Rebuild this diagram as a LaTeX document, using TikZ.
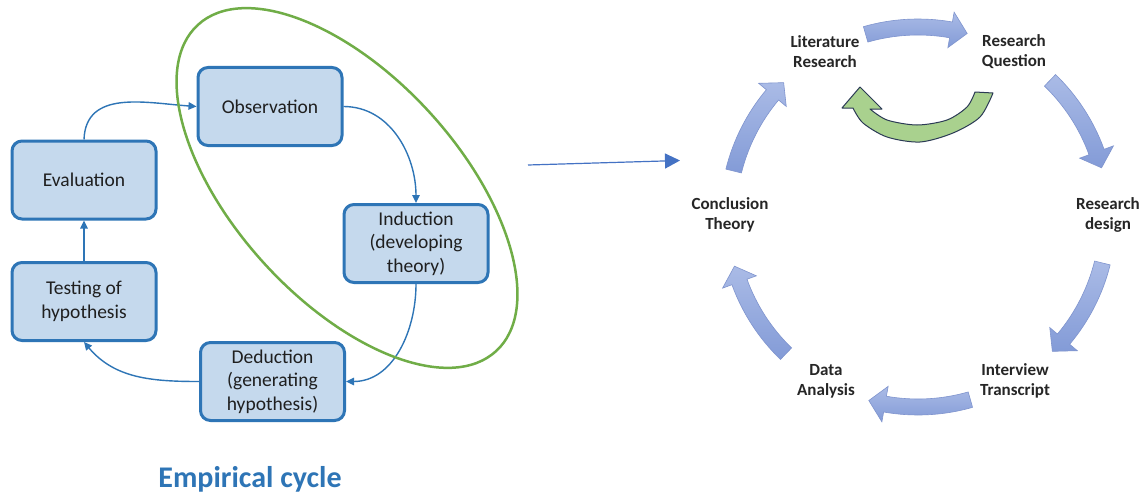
\documentclass[tikz,border=0pt]{standalone}
\usepackage{fontspec}
\setmainfont{Carlito}
\usetikzlibrary{arrows.meta}

\definecolor{boxblue}{HTML}{2E75B6}
\definecolor{boxfill}{HTML}{C5D9ED}
\definecolor{ellgreen}{HTML}{70AD47}
\definecolor{arrlight}{HTML}{AABBE6}
\definecolor{arrdark}{HTML}{839BD7}
\definecolor{arredge}{HTML}{7F94CE}
\definecolor{grfill}{HTML}{A9D18E}
\definecolor{gredge}{HTML}{2B3A55}
\definecolor{linkblue}{HTML}{4472C4}
\definecolor{labeltext}{HTML}{262626}

% block arc arrow around a centre:
% #1 centre, #2 radius, #3 half body width, #4 half head width,
% #5 tail angle, #6 head base angle, #7 tip angle, #8 style
\newcommand\arcarrow[8]{%
  \path[#8, shift={#1}]
    (#5:{#2+#3}) arc[start angle=#5, end angle=#6, radius={#2+#3}]
    -- (#6:{#2+#4}) -- (#7:#2) -- (#6:{#2-#4})
    -- (#6:{#2-#3}) arc[start angle=#6, end angle=#5, radius={#2-#3}]
    -- cycle;}

\tikzset{
  stage/.style={draw=boxblue, line width=3pt, fill=boxfill, rounded corners=10pt,
    minimum width=144pt, minimum height=78pt, align=center, inner sep=0pt,
    font=\fontsize{19.5}{23.5}\selectfont, text=black!88},
  flow/.style={draw=boxblue, line width=1.4pt, -{Triangle[length=8pt,width=7.5pt]}},
  cyclelabel/.style={align=center, font=\fontsize{17}{20}\selectfont\bfseries, text=labeltext},
  blockarrow/.style={top color=arrlight, bottom color=arrdark, draw=arredge, line width=0.6pt},
}

\begin{document}
\begin{tikzpicture}[x=1pt, y=1pt]
\useasboundingbox (0,0) rectangle (1148,-495);
\fill[white] (0,0) rectangle (1148,-495);

% ---------- empirical cycle ----------
\node[stage] (obs)  at (270,-106.5)  {Observation};
\node[stage] (eval) at (84,-180)     {Evaluation};
\node[stage] (ind)  at (416,-243.5)  {Induction\\(developing\\theory)};
\node[stage] (test) at (84,-301.5)   {Testing of\\hypothesis};
\node[stage] (ded)  at (272.5,-381.5) {Deduction\\(generating\\hypothesis)};

\draw[flow] (eval.north) to[out=88, in=176, looseness=1.1] (obs.west);
\draw[flow] (obs.east) to[out=0, in=90] (ind.north);
\draw[flow] (ind.south) to[out=-90, in=0] (ded.east);
\draw[flow] (ded.west) to[out=180, in=-50] (test.south);
\draw[flow] (test.north) -- (eval.south);

% theory-building part of the cycle
\coordinate (ec) at (347,-188);
\draw[ellgreen, line width=2.5pt, rotate around={-47.6:(ec)}]
  (ec) ellipse [x radius=221, y radius=112];

\node[font=\fontsize{30}{36}\selectfont\bfseries, text=boxblue] (title) at (250,-479) {Empirical cycle};

% link between the two cycles
\coordinate (linkA) at (528,-165);
\coordinate (linkB) at (680,-160.5);
\draw[linkblue, line width=1.2pt, -{Triangle[length=15pt,width=15pt]}] (linkA) -- (linkB);

% ---------- research cycle ----------
\arcarrow{(918,-217)}{190}{8}{18}{106}{80}{75}{blockarrow}
\arcarrow{(918,-217)}{190}{8}{18}{46}{20}{15}{blockarrow}
\arcarrow{(918,-217)}{190}{8}{18}{-14}{-40}{-45}{blockarrow}
\arcarrow{(918,-217)}{190}{8}{18}{-74}{-100}{-105}{blockarrow}
\arcarrow{(918,-217)}{190}{8}{18}{-134}{-160}{-165}{blockarrow}
\arcarrow{(918,-217)}{190}{8}{18}{166}{140}{135}{blockarrow}

% loop back from the question to the literature
\path[fill=grfill, draw=gredge, line width=1pt, line join=round]
  plot[smooth] coordinates {(993,-93) (980,-117) (953,-133) (920,-142) (887,-137) (863,-123) (853,-108)}
  -- (842,-108) -- (860,-87) -- (882,-109)
  -- plot[smooth] coordinates {(870,-109) (887,-120) (917,-125) (947,-120) (967,-107) (975,-92)}
  -- cycle;

\node[cyclelabel] (lit) at (825,-52)   {Literature\\Research};
\node[cyclelabel] (rq)  at (1014,-52)  {Research\\Question};
\node[cyclelabel] (rd)  at (1108,-215) {Research\\design};
\node[cyclelabel] (it)  at (1015,-381) {Interview\\Transcript};
\node[cyclelabel] (da)  at (826,-381)  {Data\\Analysis};
\node[cyclelabel] (ct)  at (730,-215)  {Conclusion\\Theory};
\end{tikzpicture}
\end{document}
